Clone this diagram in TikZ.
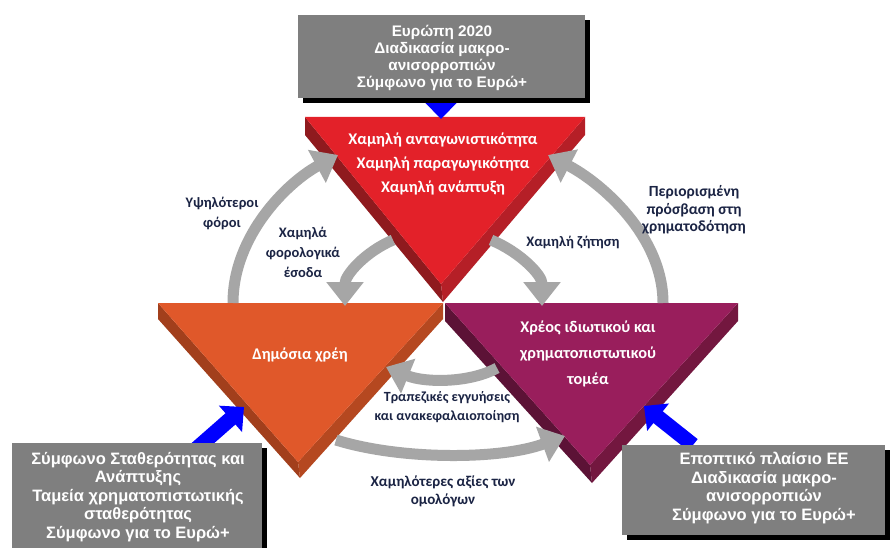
\documentclass[tikz,border=0pt]{standalone}
\usepackage{fontspec}
\setmainfont{Liberation Sans}
\newfontfamily\carl{Carlito}
\usetikzlibrary{arrows.meta,shadows}
\definecolor{redF}{HTML}{E32129}
\definecolor{redL}{HTML}{8F1A1E}
\definecolor{redR}{HTML}{B51F27}
\definecolor{oraF}{HTML}{E0582A}
\definecolor{oraL}{HTML}{A23F1C}
\definecolor{oraR}{HTML}{B54820}
\definecolor{purF}{HTML}{991E5C}
\definecolor{purL}{HTML}{5C1236}
\definecolor{purR}{HTML}{73173F}
\definecolor{boxgray}{HTML}{7F7F7F}
\definecolor{arrgray}{HTML}{A6A6A6}
\definecolor{navy}{HTML}{1B2444}
\definecolor{pureblue}{HTML}{0000FF}
\tikzset{
  graybox/.style={fill=boxgray, text=white, align=center, inner sep=0pt,
    drop shadow={shadow xshift=5pt, shadow yshift=-5pt, fill=black, opacity=1}},
  boxtext/.style={text=white, align=center, font=\bfseries\fontsize{15.3}{17.2}\selectfont},
  boxtextbig/.style={text=white, align=center, font=\bfseries\fontsize{16.5}{18.5}\selectfont},
  tritext/.style={text=white, align=center, font=\carl\bfseries\fontsize{16.3}{24}\selectfont},
  lbl/.style={text=navy, align=center, font=\carl\bfseries\fontsize{14.5}{19}\selectfont},
  grayarrow/.style={draw=arrgray, line width=11pt, -{Triangle[width=36pt,length=24pt]}},
  bluearrow/.style={draw=pureblue, line width=15pt, -{Triangle[width=34pt,length=18pt]}}
}
\begin{document}
\begin{tikzpicture}[x=1pt,y=-1pt]
\useasboundingbox (0,0) rectangle (894,548);
\fill[white] (0,0) rectangle (894,548);

% ---- red triangle
\coordinate (rTL) at (305,117); \coordinate (rTR) at (585,117);
\coordinate (rA) at (441,284); \coordinate (rB) at (443,302);
\fill[redL] (rTL) -- (rA) -- (rB) -- (305,135) -- cycle;
\fill[redR] (rTR) -- (rA) -- (rB) -- (585,135) -- cycle;
\fill[redF] (rTL) -- (rTR) -- (rA) -- cycle;
% ---- orange triangle
\coordinate (oTL) at (158,303); \coordinate (oTR) at (443,303);
\coordinate (oA) at (298,462); \coordinate (oB) at (300,478);
\fill[oraL] (oTL) -- (oA) -- (oB) -- (158,319) -- cycle;
\fill[oraR] (oTR) -- (oA) -- (oB) -- (443,319) -- cycle;
\fill[oraF] (oTL) -- (oTR) -- (oA) -- cycle;
% ---- purple triangle
\coordinate (pTL) at (445,303); \coordinate (pTR) at (738,303);
\coordinate (pA) at (590,465); \coordinate (pB) at (592,483);
\fill[purL] (pTL) -- (pA) -- (pB) -- (445,321) -- cycle;
\fill[purR] (pTR) -- (pA) -- (pB) -- (738,321) -- cycle;
\fill[purF] (pTL) -- (pTR) -- (pA) -- cycle;

% ---- triangle texts
\node[tritext] (tred) at (443,164) {Χαμηλή ανταγωνιστικότητα\\Χαμηλή παραγωγικότητα\\Χαμηλή ανάπτυξη};
\node[tritext] (tora) at (300,355) {Δημόσια χρέη};
\node[tritext, font=\carl\bfseries\fontsize{16.3}{26}\selectfont] (tpur) at (588,354) {Χρέος ιδιωτικού και\\χρηματοπιστωτικού\\τομέα};

% ---- gray arrows
\coordinate (a1s) at (233,303); \coordinate (a1e) at (338,155);
\draw[grayarrow] (a1s) .. controls (233,235) and (288,182) .. (a1e);
\coordinate (a2s) at (663,303); \coordinate (a2e) at (548,155);
\draw[grayarrow] (a2s) .. controls (663,235) and (600,182) .. (a2e);
\coordinate (a3s) at (393,240); \coordinate (a3e) at (345,306);
\draw[grayarrow] (a3s) .. controls (365,252) and (345,275) .. (a3e);
\coordinate (a4s) at (491,240); \coordinate (a4e) at (542,306);
\draw[grayarrow] (a4s) .. controls (520,252) and (542,275) .. (a4e);
\coordinate (a5s) at (497,368); \coordinate (a5e) at (386,367);
\draw[grayarrow] (a5s) .. controls (470,383) and (425,383) .. (a5e);
\coordinate (a6s) at (336,440); \coordinate (a6e) at (565,436);
\draw[grayarrow] (a6s) .. controls (400,460) and (500,460) .. (a6e);

% ---- labels
\node[lbl, font=\carl\bfseries\fontsize{14.5}{20}\selectfont] (l1) at (222,213) {Υψηλότεροι\\φόροι};
\node[lbl, font=\carl\bfseries\fontsize{14.5}{20}\selectfont] (l2) at (303,252) {Χαμηλά\\φορολογικά\\έσοδα};
\node[lbl] (l3) at (573,242) {Χαμηλή ζήτηση};
\node[lbl, font=\carl\bfseries\fontsize{15.5}{17.5}\selectfont] (l4) at (694,210) {Περιορισμένη\\πρόσβαση στη\\χρηματοδότηση};
\node[lbl, font=\carl\bfseries\fontsize{14}{19}\selectfont] (l5) at (447,407) {Τραπεζικές εγγυήσεις\\και ανακεφαλαιοποίηση};
\node[lbl, font=\carl\bfseries\fontsize{15}{18}\selectfont] (l6) at (443,491) {Χαμηλότερες αξίες των\\ομολόγων};

% ---- blue arrows (under boxes)
\coordinate (b1e) at (441,119);
\coordinate (b2s) at (195,450); \coordinate (b2e) at (244,407);
\coordinate (b3s) at (693,445); \coordinate (b3e) at (644,406);
\draw[bluearrow] (441,95) -- (b1e);
\draw[bluearrow] (b2s) -- (b2e);
\draw[bluearrow] (b3s) -- (b3e);

% ---- gray boxes
\node[graybox, minimum width=287pt, minimum height=83pt] (topbox) at (441.5,56.5) {};
\node[boxtext] (toptext) at (442,58) {Ευρώπη 2020\\Διαδικασία μακρο-\\ανισορροπιών\\Σύμφωνο για το Ευρώ+};
\node[graybox, minimum width=250pt, minimum height=110pt] (blbox) at (137,498) {};
\node[boxtextbig] (bltext) at (138,497) {Σύμφωνο Σταθερότητας και\\Ανάπτυξης\\Ταμεία χρηματοπιστωτικής\\σταθερότητας\\Σύμφωνο για το Ευρώ+};
\node[graybox, minimum width=263pt, minimum height=90pt] (brbox) at (753.5,490) {};
\node[boxtextbig] (brtext) at (764,488) {Εποπτικό πλαίσιο ΕΕ\\Διαδικασία μακρο-\\ανισορροπιών\\Σύμφωνο για το Ευρώ+};
\end{tikzpicture}
\end{document}
